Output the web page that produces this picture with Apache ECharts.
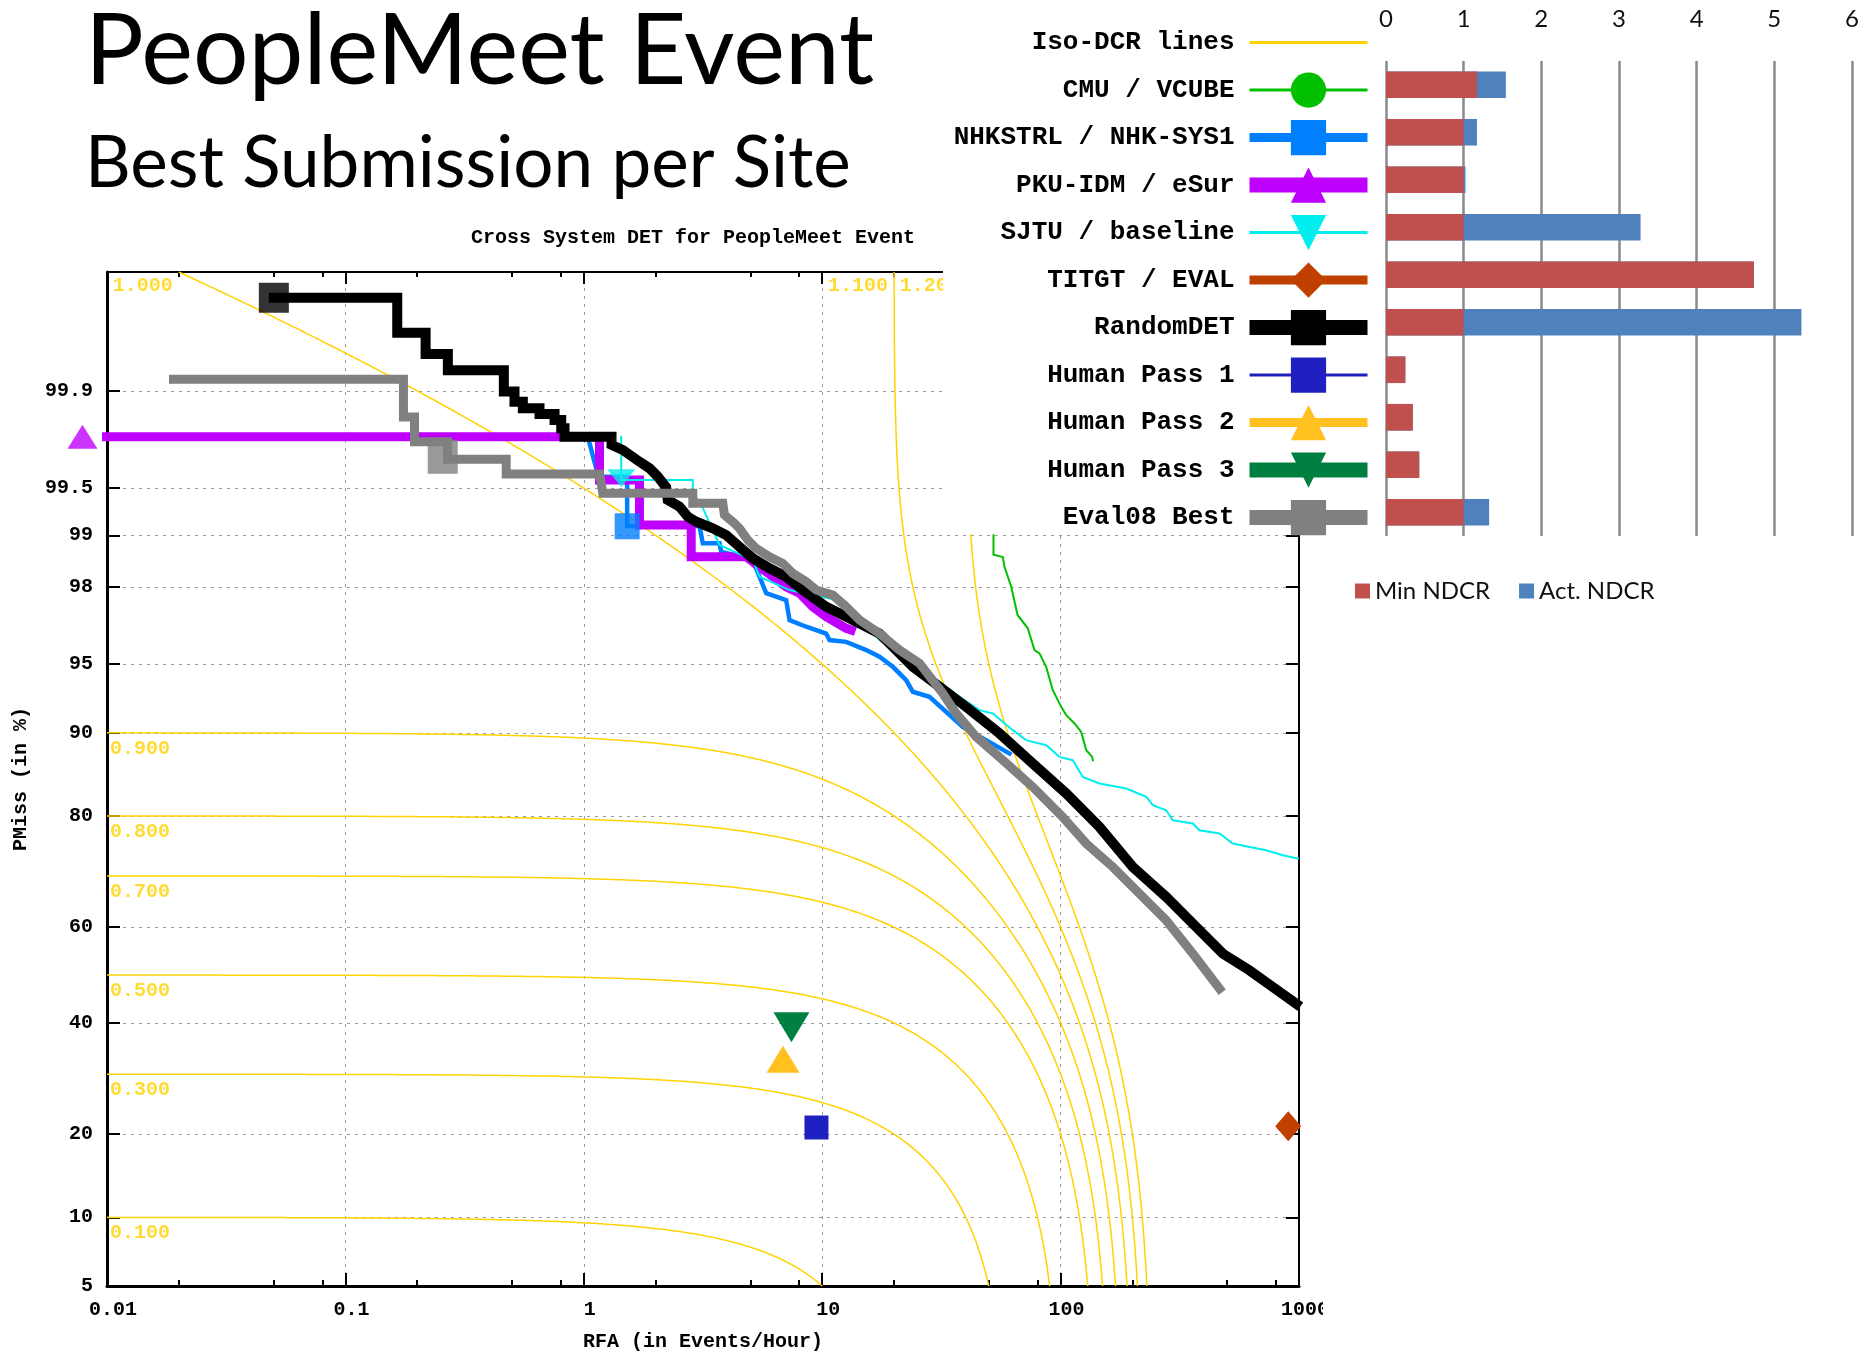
<!DOCTYPE html>
<html>
<head>
<meta charset="utf-8">
<title>PeopleMeet Event</title>
<script src="https://cdn.jsdelivr.net/npm/echarts@6/dist/echarts.min.js"></script>
<style>
html, body { margin: 0; padding: 0; background: #fff; }
#chart { width: 1872px; height: 1353px; }
</style>
</head>
<body>
<div id="chart"></div>
<script>
// ---------- axis ticks ----------
const pmissTicks = [5, 10, 20, 40, 60, 80, 90, 95, 98, 99, 99.5, 99.9];
const rfaTickLabels = ['0.01', '0.1', '1', '10', '100', '1000'];
const rfaMinorSteps = [2, 5, 8];

// ---------- iso-cost contours: Pmiss + beta * RFA = level ----------
const isoLevels = [0.1, 0.3, 0.5, 0.7, 0.8, 0.9, 1.0, 1.1, 1.2];
const isoBeta = 0.005;

// ---------- DET curves: [RFA (events/hour), Pmiss (%)] ----------
const cmuVcube = [
  [52.3, 99.0], [52.3, 98.69], [57.23, 98.65], [58.17, 98.46], [62.07, 98.0], [65.97, 97.16],
  [72.85, 96.67], [77.72, 95.72], [81.56, 95.56], [87.0, 94.85], [92.75, 93.41], [100.6, 92.2],
  [105.6, 91.54], [114.4, 90.84], [122.0, 90.08], [128.1, 88.29], [135.7, 87.58], [136.5, 87.21]
];
const nhkSys1 = [
  [1.039, 99.78], [1.127, 99.633], [1.164, 99.581], [1.52, 99.581], [1.52, 99.123], [3.057, 99.123],
  [3.156, 98.88], [3.709, 98.88], [3.77, 98.743], [5.116, 98.593], [5.458, 98.244], [5.823, 97.83],
  [7.063, 97.63], [7.293, 96.98], [8.568, 96.73], [10.39, 96.46], [10.73, 96.18], [12.61, 96.1],
  [15.3, 95.72], [17.39, 95.39], [19.78, 94.85], [22.5, 94.06], [23.99, 93.3], [28.18, 92.95],
  [38.88, 90.54], [61.04, 87.94]
];
const pkuEsur = [
  [0.00789, 99.78], [1.164, 99.78], [1.164, 99.559], [1.712, 99.559], [1.712, 99.136], [2.822, 99.136],
  [2.822, 98.654], [4.8, 98.654], [5.458, 98.46], [6.205, 98.244], [7.063, 98.0], [8.03, 97.83],
  [9.134, 97.43], [10.39, 97.1], [12.61, 96.67], [13.23, 96.6]
];
const sjtuBaseline = [
  [1.435, 99.78], [1.435, 99.559], [2.866, 99.559], [2.866, 99.472], [3.156, 99.326], [3.709, 98.854],
  [5.116, 98.593], [5.458, 98.244], [7.293, 97.915], [12.61, 97.58], [13.44, 97.21], [17.39, 96.18],
  [25.59, 94.85], [37.65, 92.95], [45.69, 91.94], [51.94, 91.68], [63.03, 90.24], [71.73, 89.3],
  [87.0, 88.8], [98.9, 87.58], [112.5, 87.21], [123.9, 85.27], [145.6, 84.45], [188.5, 83.81],
  [228.6, 82.7], [243.7, 81.55], [277.3, 80.84], [295.6, 79.36], [358.5, 78.86], [382.4, 77.82],
  [464.1, 77.29], [527.7, 75.67], [620, 75.1], [728.6, 74.54], [855.3, 73.69], [988.6, 73.11]
];
const randomDet = [
  [0.0501, 99.983], [0.165, 99.983], [0.165, 99.966], [0.217, 99.966], [0.217, 99.949], [0.269, 99.949],
  [0.269, 99.931], [0.462, 99.931], [0.462, 99.899], [0.512, 99.899], [0.512, 99.879], [0.555, 99.879],
  [0.555, 99.864], [0.652, 99.864], [0.652, 99.85], [0.754, 99.85], [0.754, 99.834], [0.804, 99.834],
  [0.804, 99.809], [0.83, 99.809], [0.83, 99.78], [1.307, 99.78], [1.307, 99.748], [1.458, 99.726],
  [1.712, 99.669], [1.886, 99.633], [2.044, 99.581], [2.216, 99.506], [2.25, 99.402], [2.52, 99.339],
  [2.731, 99.234], [2.962, 99.176], [3.476, 99.094], [3.956, 99.003], [4.498, 98.827], [5.116, 98.625],
  [6.009, 98.428], [7.063, 98.244], [8.29, 97.915], [10.39, 97.43], [13.44, 96.98], [17.39, 96.46],
  [19.78, 95.88], [23.99, 94.85], [31.05, 93.63], [40.18, 92.2], [55.41, 89.94], [76.43, 86.85],
  [105.6, 83.16], [145.6, 78.33], [200.9, 71.62], [277.3, 66.02], [382.4, 59.35], [479.1, 54.51],
  [620, 50.99], [776.2, 47.47], [973.4, 43.98]
];
const eval08Best = [
  [0.01901, 99.919], [0.1752, 99.919], [0.1752, 99.842], [0.1949, 99.842], [0.1949, 99.761], [0.268, 99.761],
  [0.268, 99.682], [0.4726, 99.682], [0.4726, 99.598], [1.164, 99.598], [1.2016, 99.459], [2.866, 99.459],
  [2.866, 99.371], [3.828, 99.371], [3.89, 99.253], [4.285, 99.157], [4.498, 99.094], [4.875, 98.931],
  [5.287, 98.8], [6.009, 98.654], [6.834, 98.529], [7.53, 98.32], [8.568, 98.126], [9.437, 97.915],
  [11.08, 97.778], [12.61, 97.43], [14.34, 96.98], [17.39, 96.46], [21.1, 95.72], [25.59, 95.04],
  [32.06, 93.18], [36.49, 91.68], [44.26, 89.62], [57.23, 87.21], [76.43, 84.02], [102.1, 79.85],
  [128.1, 75.67], [165.6, 71.62], [214.2, 66.67], [277.3, 61.39], [358.5, 54.51], [464.1, 47.13]
];

// single operating points
const titgtEval = [901, 21.2];
const humanPass1 = [9.46, 21.0];
const humanPass2 = [6.85, 32.8];
const humanPass3 = [7.43, 39.1];

// actual-decision points on the curves
const nhkActual = [1.52, 99.12];
const pkuActual = [0.00789, 99.78];
const sjtuActual = [1.435, 99.57];
const randomActual = [0.0501, 99.983];
const eval08Actual = [0.256, 99.695];

// ---------- NDCR bars ----------
const systems = ['CMU / VCUBE', 'NHKSTRL / NHK-SYS1', 'PKU-IDM / eSur', 'SJTU / baseline', 'TITGT / EVAL',
  'RandomDET', 'Human Pass 1', 'Human Pass 2', 'Human Pass 3', 'Eval08 Best'];
const minNDCR = [1.171, 1.0, 1.0, 1.0, 4.737, 1.0, 0.249, 0.345, 0.428, 1.0];
const actNDCR = [1.543, 1.171, 1.023, 3.278, 4.737, 5.349, 0.249, 0.345, 0.428, 1.328];
const ndcrTicks = [0, 1, 2, 3, 4, 5, 6];

// ---------- normal-deviate scale ----------
function probit(p) {
  const a = [-3.969683028665376e+01, 2.209460984245205e+02, -2.759285104469687e+02, 1.383577518672690e+02, -3.066479806614716e+01, 2.506628277459239e+00];
  const b = [-5.447609879822406e+01, 1.615858368580409e+02, -1.556989798598866e+02, 6.680131188771972e+01, -1.328068155288572e+01];
  const c = [-7.784894002430293e-03, -3.223964580411365e-01, -2.400758277161838e+00, -2.549732539343734e+00, 4.374664141464968e+00, 2.938163982698783e+00];
  const d = [7.784695709041462e-03, 3.224671290700398e-01, 2.445134137142996e+00, 3.754408661907416e+00];
  const pl = 0.02425;
  let q, r;
  if (p < pl) {
    q = Math.sqrt(-2 * Math.log(p));
    return (((((c[0] * q + c[1]) * q + c[2]) * q + c[3]) * q + c[4]) * q + c[5]) / ((((d[0] * q + d[1]) * q + d[2]) * q + d[3]) * q + 1);
  }
  if (p > 1 - pl) {
    q = Math.sqrt(-2 * Math.log(1 - p));
    return -(((((c[0] * q + c[1]) * q + c[2]) * q + c[3]) * q + c[4]) * q + c[5]) / ((((d[0] * q + d[1]) * q + d[2]) * q + d[3]) * q + 1);
  }
  q = p - 0.5; r = q * q;
  return (((((a[0] * r + a[1]) * r + a[2]) * r + a[3]) * r + a[4]) * r + a[5]) * q / (((((b[0] * r + b[1]) * r + b[2]) * r + b[3]) * r + b[4]) * r + 1);
}
const toDet = pt => [Math.log10(pt[0]), probit(pt[1] / 100)];
const yMin = probit(0.05);
const yMax = probit(0.9999);
const yTickVals = pmissTicks.map(p => probit(p / 100));
const xMinorVals = [];
for (let e = -2; e < 3; e++) rfaMinorSteps.forEach(s => xMinorVals.push(e + Math.log10(s)));

function pmissLabel(v) {
  let best = 0;
  yTickVals.forEach((t, i) => { if (Math.abs(t - v) < Math.abs(yTickVals[best] - v)) best = i; });
  return String(pmissTicks[best]);
}

function isoCurve(level) {
  const pts = [];
  const lo = Math.log10(Math.max(0.01, (level - 0.9999) / isoBeta));
  const hi = Math.log10((level - 0.05) / isoBeta);
  const n = 700;
  for (let i = 0; i <= n; i++) {
    const lr = lo + (hi - lo) * i / n;
    const pm = level - isoBeta * Math.pow(10, lr);
    pts.push([lr, probit(Math.min(Math.max(pm, 0.05), 0.9999))]);
  }
  return pts;
}

// ---------- styles ----------
const GOLD = '#FFD200';
const mono = { fontFamily: 'Liberation Mono', fontWeight: 'bold', fontSize: 20, color: '#000' };
const dotted = { show: true, lineStyle: { color: '#9a9a9a', width: 1, type: [3, 5] } };
const triDown = 'path://M0,0L20,0L10,20Z';

const detNames = ['Iso-DCR lines', 'CMU / VCUBE', 'NHKSTRL / NHK-SYS1', 'PKU-IDM / eSur', 'SJTU / baseline',
  'TITGT / EVAL', 'RandomDET', 'Human Pass 1', 'Human Pass 2', 'Human Pass 3', 'Eval08 Best'];
const legendLineWidths = [3, 3, 9, 15, 3, 9, 15, 3, 9, 15, 15];

const series = [];

// iso-DCR contours
isoLevels.forEach(level => {
  series.push({
    name: 'Iso-DCR lines', type: 'line', xAxisIndex: 0, yAxisIndex: 0,
    data: isoCurve(level), symbol: 'none', showSymbol: false, silent: true,
    itemStyle: { color: GOLD }, lineStyle: { color: GOLD, width: 1.5 }, z: 1
  });
});
series.push({
  name: 'iso labels left', type: 'scatter', xAxisIndex: 0, yAxisIndex: 0, symbolSize: 0, clip: false, silent: true,
  data: isoLevels.filter(l => l < 1).map(l => [-2, probit(l - isoBeta * 0.01), l]),
  label: { show: true, position: 'right', distance: 3, verticalAlign: 'top', offset: [0, 6], ...mono, color: GOLD,
    formatter: p => p.value[2].toFixed(3) }, z: 1
});
series.push({
  name: 'iso labels top', type: 'scatter', xAxisIndex: 0, yAxisIndex: 0, symbolSize: 0, clip: false, silent: true,
  data: isoLevels.filter(l => l >= 1).map(l => [Math.log10((l - 0.9999) / isoBeta), yMax, l]),
  label: { show: true, position: 'left', distance: 6, verticalAlign: 'top', offset: [0, 4], ...mono, color: GOLD,
    formatter: p => p.value[2].toFixed(3) }, z: 1
});

function curve(name, data, color, width, symbol) {
  return {
    name, type: 'line', xAxisIndex: 0, yAxisIndex: 0, data: data.map(toDet),
    symbol, showSymbol: false, silent: true,
    itemStyle: { color }, lineStyle: { color, width, cap: 'square', join: 'miter' }
  };
}
function point(name, pt, color, symbol, size) {
  return {
    name, type: 'line', xAxisIndex: 0, yAxisIndex: 0, data: [toDet(pt)],
    symbol, symbolSize: size, showSymbol: true, silent: true,
    itemStyle: { color }, lineStyle: { color, width: 2 }
  };
}
function marker(name, pt, color, symbol, size) {
  return {
    name, type: 'scatter', xAxisIndex: 0, yAxisIndex: 0, data: [toDet(pt)], clip: false,
    symbol, symbolSize: size, silent: true, itemStyle: { color }, z: 3
  };
}

series.push(curve('CMU / VCUBE', cmuVcube, '#00C000', 2, 'circle'));
series.push(curve('NHKSTRL / NHK-SYS1', nhkSys1, '#0080FF', 4.5, 'rect'));
series.push(curve('PKU-IDM / eSur', pkuEsur, '#C000FF', 9, 'triangle'));
series.push(curve('SJTU / baseline', sjtuBaseline, '#00EEEE', 2, triDown));
series.push(point('TITGT / EVAL', titgtEval, '#C04000', 'diamond', [26, 30]));
series.push(curve('RandomDET', randomDet, '#000000', 10, 'rect'));
series.push(point('Human Pass 1', humanPass1, '#2020C0', 'rect', [24, 24]));
series.push(point('Human Pass 2', humanPass2, '#FFC020', 'triangle', [33, 27]));
series.push(point('Human Pass 3', humanPass3, '#008040', triDown, [36, 30]));
series.push(curve('Eval08 Best', eval08Best, '#808080', 9, 'rect'));

series.push(marker('NHK actual', nhkActual, '#0080FF', 'rect', [25, 26]));
series.push(marker('PKU actual', pkuActual, '#C000FF', 'triangle', [30, 24]));
series.push(marker('SJTU actual', sjtuActual, '#00EEEE', triDown, [28, 18]));
series.push(marker('RandomDET actual', randomActual, '#000000', 'rect', [30, 30]));
series.push(marker('Eval08 actual', eval08Actual, '#808080', 'rect', [30, 34]));

// NDCR bars (Act. behind, Min in front on the same band)
series.push({
  name: 'Act. NDCR', type: 'bar', xAxisIndex: 4, yAxisIndex: 2, data: actNDCR,
  barWidth: '56%', barGap: '-100%', itemStyle: { color: '#4F81BD' }, silent: true, z: 60
});
series.push({
  name: 'Min NDCR', type: 'bar', xAxisIndex: 4, yAxisIndex: 2, data: minNDCR,
  barWidth: '56%', barGap: '-100%', itemStyle: { color: '#C0504D' }, silent: true, z: 61
});

const option = {
  animation: false,
  backgroundColor: '#fff',
  title: [
    { text: 'PeopleMeet Event', left: 85, top: 3, padding: 0,
      textStyle: { fontFamily: 'Lato', fontSize: 98, fontWeight: 'normal', color: '#000' } },
    { text: 'Best Submission per Site', left: 85, top: 129, padding: 0,
      textStyle: { fontFamily: 'Lato', fontSize: 71, fontWeight: 'normal', color: '#000' } },
    { text: 'Cross System DET for PeopleMeet Event', left: 471, top: 228, padding: 0,
      textStyle: mono }
  ],
  grid: [
    { left: 107, top: 272, width: 1192, height: 1014, outerBoundsMode: 'none' },
    { left: 1386, top: 61, width: 466, height: 475, outerBoundsMode: 'none' }
  ],
  xAxis: [
    { gridIndex: 0, type: 'value', min: -2, max: 3, interval: 1, position: 'bottom',
      axisLine: { show: true, onZero: false, lineStyle: { color: '#000', width: 3 } },
      axisTick: { show: true, inside: true, length: 13, lineStyle: { color: '#000', width: 2 } },
      axisLabel: { ...mono, margin: 14, padding: [0, 0, 0, 12], formatter: v => rfaTickLabels[Math.round(v) + 2] },
      splitLine: dotted,
      name: 'RFA (in Events/Hour)', nameLocation: 'middle', nameGap: 46, nameTextStyle: mono },
    { gridIndex: 0, type: 'value', min: -2, max: 3, position: 'bottom',
      axisLine: { show: false, onZero: false },
      axisTick: { show: true, inside: true, length: 6, customValues: xMinorVals, lineStyle: { color: '#000', width: 2 } },
      axisLabel: { show: false }, splitLine: { show: false } },
    { gridIndex: 0, type: 'value', min: -2, max: 3, interval: 1, position: 'top',
      axisLine: { show: true, onZero: false, lineStyle: { color: '#000', width: 2 } },
      axisTick: { show: true, inside: true, length: 12, lineStyle: { color: '#000', width: 2 } },
      axisLabel: { show: false }, splitLine: { show: false } },
    { gridIndex: 0, type: 'value', min: -2, max: 3, position: 'top',
      axisLine: { show: false, onZero: false },
      axisTick: { show: true, inside: true, length: 5, customValues: xMinorVals, lineStyle: { color: '#000', width: 2 } },
      axisLabel: { show: false }, splitLine: { show: false } },
    { gridIndex: 1, type: 'value', min: 0, max: 6, interval: 1, position: 'top', z: 60,
      axisLine: { show: false }, axisTick: { show: false },
      axisLabel: { fontFamily: 'Lato', fontSize: 24, color: '#111', margin: 30,
        formatter: v => String(ndcrTicks[Math.round(v)]) },
      splitLine: { show: true, lineStyle: { color: '#8a8a8a', width: 2.5 } } }
  ],
  yAxis: [
    { gridIndex: 0, type: 'value', min: yMin, max: yMax, position: 'left',
      axisLine: { show: true, onZero: false, lineStyle: { color: '#000', width: 3 } },
      axisTick: { show: true, inside: true, length: 13, customValues: yTickVals, lineStyle: { color: '#000', width: 2 } },
      axisLabel: { ...mono, margin: 14, customValues: yTickVals, formatter: v => pmissLabel(v) },
      splitLine: dotted,
      name: 'PMiss (in %)', nameLocation: 'middle', nameGap: 76, nameRotate: 90, nameTextStyle: mono },
    { gridIndex: 0, type: 'value', min: yMin, max: yMax, position: 'right',
      axisLine: { show: true, onZero: false, lineStyle: { color: '#000', width: 2 } },
      axisTick: { show: true, inside: true, length: 13, customValues: yTickVals, lineStyle: { color: '#000', width: 2 } },
      axisLabel: { show: false }, splitLine: { show: false } },
    { gridIndex: 1, type: 'category', data: systems, inverse: true, z: 60,
      axisLine: { show: false }, axisTick: { show: false }, axisLabel: { show: false }, splitLine: { show: false } }
  ],
  legend: [
    { orient: 'vertical', align: 'right', right: 497, top: 25, padding: 0,
      itemWidth: 118, itemHeight: 44, itemGap: 12.3, selectedMode: false, z: 60,
      textStyle: { fontFamily: 'Liberation Mono', fontWeight: 'bold', fontSize: 26, color: '#000', padding: [0, 10, 0, 0] },
      data: detNames.map((n, i) => ({
        name: n,
        lineStyle: { width: legendLineWidths[i], cap: 'butt', join: 'miter' },
        itemStyle: i === 0 ? { color: 'rgba(0,0,0,0)', borderWidth: 0 } : { borderWidth: 0 }
      })) },
    { orient: 'horizontal', left: 1355, top: 579, padding: 0, icon: 'rect',
      itemWidth: 15, itemHeight: 15, itemGap: 29, selectedMode: false, z: 60,
      textStyle: { fontFamily: 'Lato', fontSize: 24, color: '#111' },
      data: ['Min NDCR', 'Act. NDCR'] }
  ],
  graphic: [
    // legend / bar panel sits over the upper-right corner of the DET plot
    { type: 'rect', z: 50, silent: true, shape: { x: 943, y: 0, width: 929, height: 534 }, style: { fill: '#fff' } },
    // the DET picture ends just right of its last axis label
    { type: 'rect', z: 50, silent: true, shape: { x: 1323, y: 1292, width: 549, height: 61 }, style: { fill: '#fff' } }
  ],
  series
};

const chart = echarts.init(document.getElementById('chart'), null, { renderer: 'canvas' });
chart.setOption(option);
</script>
</body>
</html>
